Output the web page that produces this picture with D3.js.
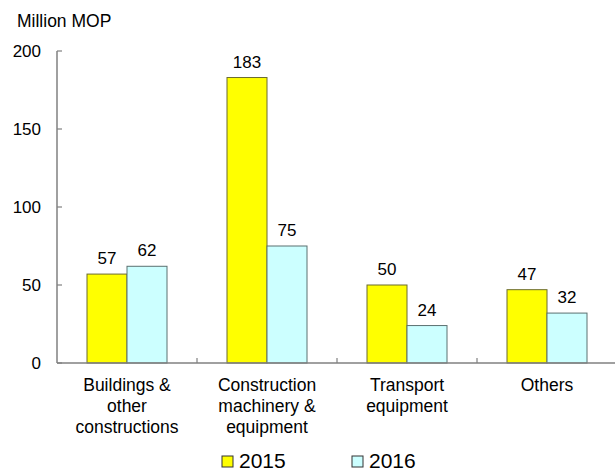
<!DOCTYPE html>
<html>
<head>
<meta charset="utf-8">
<script src="https://cdn.jsdelivr.net/npm/d3@7"></script>
<style>
  body { margin: 0; background: #fff; }
  text { font-family: "Liberation Sans", Arial, sans-serif; fill: #000; }
</style>
</head>
<body>
<script>
// chart size
const width = 615, height = 472;

// data
const categories = [
    ["Buildings &", "other", "constructions"],
    ["Construction", "machinery &", "equipment"],
    ["Transport", "equipment"],
    ["Others"]
];
const years = ["2015", "2016"];
const values2015 = [57, 183, 50, 47];
const values2016 = [62, 75, 24, 32];
const yTicks = [0, 50, 100, 150, 200];
const colors = ["#ffff00", "#ccffff"];
const strokes = ["#6b6b30", "#5a7070"];

const margin = {left: 57, right: -2, top: 51, bottom: 109};

const svg = d3.select("body")
    .append("svg")
    .attr("width", width)
    .attr("height", height);

const x = d3.scaleBand()
    .domain(d3.range(categories.length))
    .range([margin.left, width - margin.right]);

const y = d3.scaleLinear()
    .domain([0, 200])
    .range([height - margin.bottom, margin.top]);

const series = [values2015, values2016];
const barW = 40;

// bars
series.forEach((vals, s) => {
    svg.selectAll(".bar" + s)
        .data(vals)
        .enter()
        .append("rect")
        .attr("x", (d, i) => x(i) + x.bandwidth() / 2 - barW + s * barW)
        .attr("y", d => y(d))
        .attr("width", barW)
        .attr("height", d => y(0) - y(d))
        .attr("fill", colors[s])
        .attr("stroke", strokes[s])
        .attr("stroke-width", 1);

    svg.selectAll(".lab" + s)
        .data(vals)
        .enter()
        .append("text")
        .attr("x", (d, i) => x(i) + x.bandwidth() / 2 - barW / 2 + s * barW)
        .attr("y", d => y(d) - 10)
        .attr("text-anchor", "middle")
        .attr("font-size", "17px")
        .text(d => d);
});

// y axis
const axisColor = "#808080";
svg.append("line")
    .attr("x1", margin.left).attr("x2", margin.left)
    .attr("y1", y(200)).attr("y2", y(0))
    .attr("stroke", axisColor).attr("stroke-width", 1.5);

svg.selectAll(".ytick")
    .data(yTicks)
    .enter()
    .append("line")
    .attr("x1", margin.left).attr("x2", margin.left + 5)
    .attr("y1", d => y(d)).attr("y2", d => y(d))
    .attr("stroke", axisColor).attr("stroke-width", 1.2);

svg.selectAll(".ylab")
    .data(yTicks)
    .enter()
    .append("text")
    .attr("x", 41)
    .attr("y", d => y(d) + 6)
    .attr("text-anchor", "end")
    .attr("font-size", "17px")
    .text(d => d);

// x axis
svg.append("line")
    .attr("x1", margin.left).attr("x2", width)
    .attr("y1", y(0)).attr("y2", y(0))
    .attr("stroke", axisColor).attr("stroke-width", 1.5);

svg.selectAll(".xtick")
    .data(d3.range(1, categories.length))
    .enter()
    .append("line")
    .attr("x1", d => x(d)).attr("x2", d => x(d))
    .attr("y1", y(0)).attr("y2", y(0) - 5)
    .attr("stroke", axisColor).attr("stroke-width", 1.2);

// category labels
categories.forEach((lines, i) => {
    const t = svg.append("text")
        .attr("text-anchor", "middle")
        .attr("font-size", "17.5px");
    lines.forEach((ln, j) => {
        t.append("tspan")
            .attr("x", x(i) + x.bandwidth() / 2)
            .attr("y", y(0) + 28 + j * 21)
            .text(ln);
    });
});

// unit label
svg.append("text")
    .attr("x", 17)
    .attr("y", 27)
    .attr("font-size", "17.5px")
    .text("Million MOP");

// legend
const legendX = [222, 352];
years.forEach((yr, s) => {
    svg.append("rect")
        .attr("x", legendX[s]).attr("y", 456)
        .attr("width", 11).attr("height", 11)
        .attr("fill", colors[s])
        .attr("stroke", "#333").attr("stroke-width", 1);
    svg.append("text")
        .attr("x", legendX[s] + 17)
        .attr("y", 468)
        .attr("font-size", "21px")
        .text(yr);
});
</script>
</body>
</html>
